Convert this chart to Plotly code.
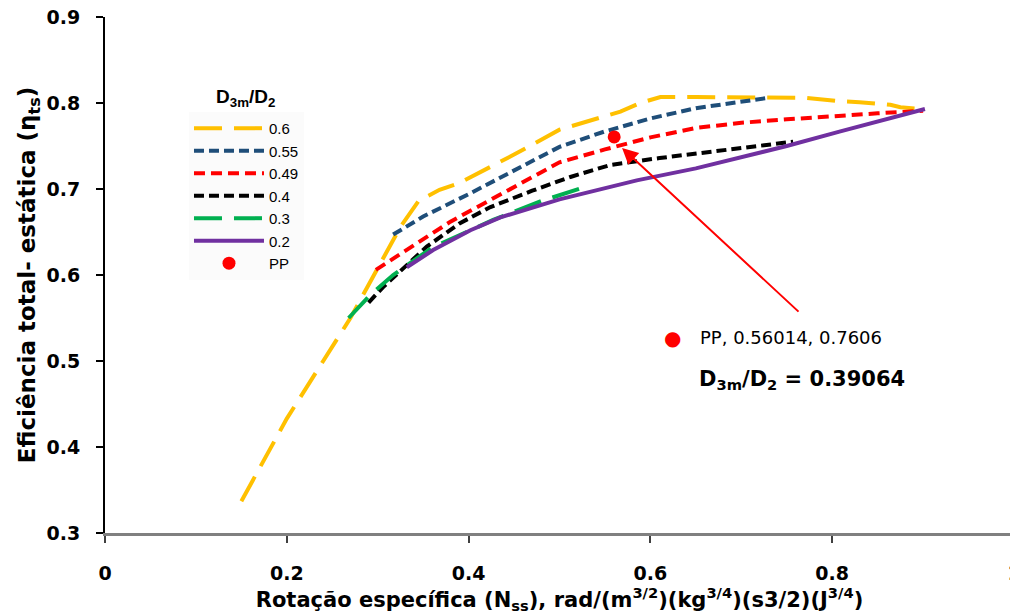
import plotly.graph_objects as go

# Data
x_06 = [0.15, 0.20, 0.27, 0.295, 0.325, 0.345, 0.368, 0.39, 0.45, 0.50, 0.567, 0.589, 0.611, 0.65, 0.706, 0.743, 0.772, 0.809, 0.83, 0.864, 0.875, 0.90]
y_06 = [0.337, 0.433, 0.55, 0.598, 0.656, 0.686, 0.699, 0.707, 0.74, 0.769, 0.79, 0.80, 0.807, 0.807, 0.807, 0.807, 0.806, 0.802, 0.801, 0.798, 0.795, 0.793]

x_055 = [0.317, 0.35, 0.40, 0.45, 0.50, 0.55, 0.60, 0.65, 0.70, 0.73]
y_055 = [0.647, 0.668, 0.694, 0.722, 0.749, 0.767, 0.782, 0.794, 0.802, 0.806]

x_049 = [0.298, 0.33, 0.38, 0.42, 0.50, 0.55, 0.60, 0.65, 0.70, 0.75, 0.80, 0.85, 0.90]
y_049 = [0.606, 0.628, 0.662, 0.685, 0.731, 0.746, 0.760, 0.771, 0.777, 0.781, 0.785, 0.788, 0.791]

x_04 = [0.29, 0.306, 0.354, 0.39, 0.424, 0.47, 0.512, 0.556, 0.61, 0.666, 0.706, 0.757]
y_04 = [0.568, 0.586, 0.633, 0.66, 0.679, 0.698, 0.714, 0.728, 0.736, 0.743, 0.748, 0.755]

x_03 = [0.268, 0.292, 0.317, 0.36, 0.427, 0.48, 0.53]
y_03 = [0.55, 0.577, 0.60, 0.632, 0.664, 0.686, 0.703]

x_02 = [0.332, 0.361, 0.402, 0.435, 0.50, 0.585, 0.65, 0.70, 0.75, 0.809, 0.85, 0.902]
y_02 = [0.609, 0.629, 0.652, 0.667, 0.688, 0.71, 0.724, 0.737, 0.750, 0.767, 0.778, 0.793]

pp_x = [0.56014]
pp_y = [0.7606]

series_names = ["0.6", "0.55", "0.49", "0.4", "0.3", "0.2"]
series_x = [x_06, x_055, x_049, x_04, x_03, x_02]
series_y = [y_06, y_055, y_049, y_04, y_03, y_02]
colors = ["#FFC000", "#1F4E79", "#FF0000", "#000000", "#00B050", "#7030A0"]
dashes = ["28px,12px", "10px,5px", "11px,6px", "10px,5px", "28px,12px", "solid"]

BOLD = "DejaVu Sans"
fig = go.Figure()
for name, xs, ys, c, d in zip(series_names, series_x, series_y, colors, dashes):
    fig.add_trace(go.Scatter(x=xs, y=ys, mode="lines", name=name,
                             line=dict(color=c, width=4, dash=d)))

fig.add_trace(go.Scatter(x=pp_x, y=pp_y, mode="markers", name="PP",
                         marker=dict(color="#FF0000", size=13)))

# arrow pointing to PP
fig.add_annotation(x=0.5688, y=0.7477, ax=0.7646, ay=0.5558, xref="x", yref="y",
                   axref="x", ayref="y", text="", showarrow=True,
                   arrowhead=2, arrowsize=1.6, arrowwidth=2, arrowcolor="#FF0000")

fig.add_annotation(x=0.6238, y=0.378, xref="paper", yref="paper", xanchor="center",
                   text="●", showarrow=False,
                   font=dict(family="DejaVu Sans", size=20, color="#FF0000"))
fig.add_annotation(x=0.6524, y=0.378, xref="paper", yref="paper", xanchor="left",
                   text="PP, 0.56014, 0.7606", showarrow=False,
                   font=dict(family="DejaVu Sans", size=18, color="#000"))
fig.add_annotation(x=0.6513, y=0.268, xref="paper", yref="paper", xanchor="left",
                   text="<b>D<sub>3m</sub>/D<sub>2</sub> = 0.39064</b>",
                   showarrow=False, font=dict(family=BOLD, size=21, color="#000"))
# legend title
fig.add_annotation(x=0.1545, y=0.871, xref="paper", yref="paper", xanchor="center",
                   text="<b>D<sub>3m</sub>/D<sub>2</sub></b>",
                   showarrow=False, font=dict(family="Liberation Sans", size=19, color="#000"))

# the page body adds an 8px offset; size and margins compensate for it
fig.update_layout(
    width=1010, height=608,
    margin=dict(l=97, r=4, t=9, b=83),
    paper_bgcolor="white", plot_bgcolor="white",
    font=dict(family="Liberation Sans, Arial", color="#000"),
    showlegend=True,
    legend=dict(x=0.0924, y=0.816, xanchor="left", yanchor="top",
                bgcolor="#fbfbfb", font=dict(size=15, family="Liberation Sans"),
                itemwidth=70, tracegroupgap=0),
    xaxis=dict(range=[0, 1], dtick=0.2, tick0=0, showgrid=False, zeroline=False,
               automargin=False, ticklabeloverflow="allow",
               showline=True, linecolor="#808080", linewidth=3,
               ticks="outside", ticklen=7, tickcolor="#404040", tickwidth=2,
               ticklabelstandoff=14,
               tickfont=dict(size=19, family=BOLD, weight="bold"),
               title=dict(text="<b>Rotação específica (N<sub>ss</sub>), rad/(m<sup>3/2</sup>)(kg<sup>3/4</sup>)(s3/2)(J<sup>3/4</sup>)</b>",
                          font=dict(size=21, family=BOLD), standoff=7)),
    yaxis=dict(range=[0.3, 0.9], dtick=0.1, showgrid=False, zeroline=False,
               automargin=False, ticklabeloverflow="allow",
               showline=True, linecolor="#000", linewidth=2,
               ticks="outside", ticklen=7, tickcolor="#000", tickwidth=2,
               ticklabelstandoff=12,
               tickfont=dict(size=19, family=BOLD, weight="bold"),
               title=dict(text="<b>Eficiência total- estática (η<sub>ts</sub>)</b>",
                          font=dict(size=23, family=BOLD), standoff=4)),
)

fig.write_html("out.html")
